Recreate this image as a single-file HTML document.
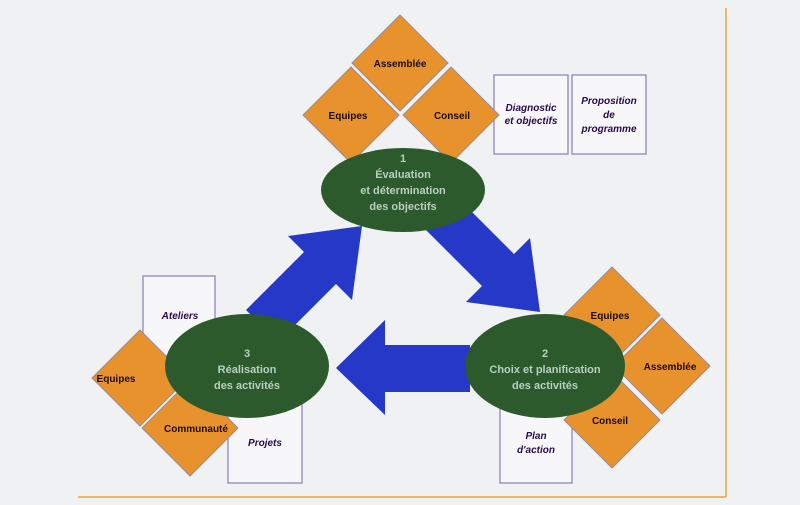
<!DOCTYPE html>
<html><head><meta charset="utf-8"><style>
html,body{margin:0;padding:0;background:#eff1f3;}
svg{display:block}
text{font-family:"Liberation Sans",sans-serif;font-weight:bold;}
</style></head><body>
<svg width="800" height="505" viewBox="0 0 800 505">
<rect width="800" height="505" fill="#eff1f3"/>
<line x1="726" y1="8" x2="726" y2="497" stroke="#e8a640" stroke-width="1.5"/>
<line x1="78" y1="497" x2="726" y2="497" stroke="#e8a640" stroke-width="1.5"/>
<g fill="#2638c8">
<!-- 3 -> 1 -->
<polygon points="246,310 304,252 288,236 362,226 352,300 336,284 278,342"/>
<!-- 1 -> 2 -->
<polygon points="446,186 514,254 530,238 540,312 466,302 482,286 414,218"/>
<!-- 2 -> 3 -->
<polygon points="470,345 385,345 385,320 336,368 385,415 385,392 470,392"/>
</g>
<g stroke="#8a7fb0" stroke-width="1.2" fill="#f7f7fa">
<rect x="494" y="75" width="74" height="79"/>
<rect x="572" y="75" width="74" height="79"/>
<rect x="143" y="276" width="72" height="80"/>
<rect x="228" y="398" width="74" height="85"/>
<rect x="500" y="405" width="72" height="78"/>
</g>
<g fill="#e8922e" stroke="#9a8a9a" stroke-width="1">
<polygon points="400,15 448,63 400,111 352,63"/>
<polygon points="351,67 399,115 351,163 303,115"/>
<polygon points="451,67 499,115 451,163 403,115"/>
<polygon points="140,330 188,378 140,426 92,378"/>
<polygon points="190,380 238,428 190,476 142,428"/>
<polygon points="612,267 660,315 612,363 564,315"/>
<polygon points="662,318 710,366 662,414 614,366"/>
<polygon points="612,372 660,420 612,468 564,420"/>
</g>
<g fill="#2c5a2c">
<ellipse cx="403" cy="190" rx="82" ry="42"/>
<ellipse cx="247" cy="366" rx="82" ry="52"/>
<ellipse cx="545" cy="366" rx="80" ry="52"/>
</g>
<g font-size="10" fill="#1a0a1a" text-anchor="middle">
<text x="400" y="67">Assemblée</text>
<text x="348" y="119">Equipes</text>
<text x="452" y="119">Conseil</text>
<text x="116" y="382">Equipes</text>
<text x="196" y="432">Communauté</text>
<text x="610" y="319">Equipes</text>
<text x="670" y="370">Assemblée</text>
<text x="610" y="424">Conseil</text>
</g>
<g font-size="10" fill="#2a0a4a" text-anchor="middle" font-style="italic">
<text x="531" y="111">Diagnostic</text>
<text x="531" y="124">et objectifs</text>
<text x="609" y="104">Proposition</text>
<text x="609" y="118">de</text>
<text x="609" y="132">programme</text>
<text x="180" y="319">Ateliers</text>
<text x="265" y="446">Projets</text>
<text x="536" y="439">Plan</text>
<text x="536" y="453">d'action</text>
</g>
<g font-size="11" fill="#b8d0c0" text-anchor="middle">
<text x="403" y="162">1</text>
<text x="403" y="178">Évaluation</text>
<text x="403" y="194">et détermination</text>
<text x="403" y="210">des objectifs</text>
<text x="247" y="357">3</text>
<text x="247" y="373">Réalisation</text>
<text x="247" y="389">des activités</text>
<text x="545" y="357">2</text>
<text x="545" y="373">Choix et planification</text>
<text x="545" y="389">des activités</text>
</g>
</svg>
</body></html>
